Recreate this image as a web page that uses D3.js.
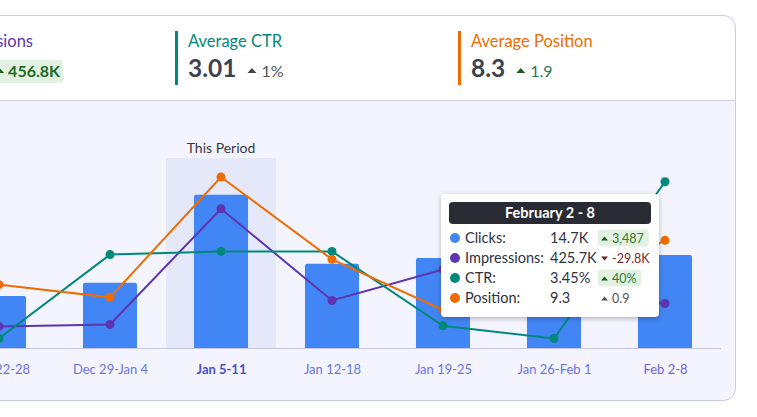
<!DOCTYPE html>
<html><head><meta charset="utf-8">
<script src="https://cdn.jsdelivr.net/npm/d3@7"></script>
<style>
html,body{margin:0;padding:0;background:#fff;overflow:hidden}
svg{display:block;font-family:Lato,"Open Sans",sans-serif}
</style></head><body>
<svg id="c" width="757" height="417"></svg>
<script>
// ---- data ----
const categories = ["Dec 22-28","Dec 29-Jan 4","Jan 5-11","Jan 12-18","Jan 19-25","Jan 26-Feb 1","Feb 2-8"];
const clicks      = [8.2, 10.3, 24.2, 13.3, 14.2, 11.2, 14.7];          // thousands
const impressions = [335.1, 343.0, 799.7, 437.5, 559.6, 455.5, 425.7];  // thousands
const ctr         = [2.46, 2.99, 3.01, 3.01, 2.54, 2.46, 3.45];         // %
const position    = [10.0, 10.2, 8.3, 9.6, 10.4, 10.2, 9.3];
const currentPeriod = "Jan 5-11";
const hoverPeriod = "Feb 2-8";

const statTitles  = ["Impressions","Average CTR","Average Position"];
const statValues  = ["799.7K","3.01","8.3"];
const statChanges = ["456.8K","1%","1.9"];

const tipTitle   = "February 2 - 8";
const tipLabels  = ["Clicks:","Impressions:","CTR:","Position:"];
const tipValues  = ["14.7K","425.7K","3.45%","9.3"];
const tipChanges = ["3,487","-29.8K","40%","0.9"];

// ---- colours ----
const C = {blue:"#4285f4", purple:"#5e35b1", teal:"#00897b", orange:"#ef6c00",
           border:"#c9cae6", plotBg:"#f3f4fd", band:"#e5e8f9", text:"#3c4350"};

const svg = d3.select("#c");
const defs = svg.append("defs");
defs.append("clipPath").attr("id","card").append("rect")
  .attr("x",-20.5).attr("y",15.5).attr("width",756).attr("height",385).attr("rx",12);
const f = defs.append("filter").attr("id","sh").attr("x","-20%").attr("y","-20%").attr("width","140%").attr("height","150%");
f.append("feDropShadow").attr("dx",0).attr("dy",1.5).attr("stdDeviation",2.5).attr("flood-color","#000").attr("flood-opacity",0.28);

const card = svg.append("g").attr("clip-path","url(#card)");
card.append("rect").attr("x",-21).attr("y",15).attr("width",760).attr("height",390).attr("fill","#fff");
card.append("rect").attr("x",-21).attr("y",100.5).attr("width",760).attr("height",305).attr("fill",C.plotBg);
card.append("line").attr("x1",-21).attr("x2",740).attr("y1",100.5).attr("y2",100.5).attr("stroke",C.border);

// ---- header stats ----
function tri(g, x, y, up, col){
  g.append("path").attr("d", up ? `M${x},${y} l4.5,-5 l4.5,5 Z` : `M${x},${y-5} l4.5,5 l4.5,-5 Z`).attr("fill",col);
}
// Impressions (partially off-screen)
{
  const g = svg.append("g");
  g.append("text").attr("x",33).attr("y",47).attr("text-anchor","end").attr("font-size",16.5)
    .attr("fill",C.purple).text(statTitles[0]);
  const t = g.append("text").attr("x",60).attr("y",77).attr("text-anchor","end").attr("font-size",16)
    .attr("font-weight",700).attr("fill","#1e6a22").text(statChanges[0]);
  const bb = t.node().getBBox();
  const tx = bb.x - 13;
  g.insert("rect","text").attr("x",tx-6).attr("y",60).attr("width",63-(tx-6)).attr("height",23).attr("rx",4).attr("fill","#e3f1e3");
  tri(g, tx, 73, true, "#1b5e20");
  g.append("text").attr("x",tx-14).attr("y",77).attr("text-anchor","end").attr("font-size",24)
    .attr("font-weight",700).attr("fill",C.text).text(statValues[0]);
}
const statX = [175, 458];
const statCol = [C.teal, C.orange];
const chgCol = [["#444","#555"],["#1b5e20","#23795a"]];
[1,2].forEach((k,j)=>{
  const x0 = statX[j];
  const g = svg.append("g");
  g.append("rect").attr("x",x0).attr("y",31).attr("width",3).attr("height",54).attr("fill",statCol[j]);
  g.append("text").attr("x",x0+13).attr("y",47).attr("font-size",16.5).attr("fill",statCol[j]).text(statTitles[k]);
  const v = g.append("text").attr("x",x0+13).attr("y",77).attr("font-size",24.5).attr("font-weight",700)
    .attr("fill",C.text).text(statValues[k]);
  const w = v.node().getComputedTextLength();
  const tx = x0+13+w+11;
  tri(g, tx, 73, true, chgCol[j][0]);
  g.append("text").attr("x",tx+14).attr("y",77).attr("font-size",16).attr("fill",chgCol[j][1]).text(statChanges[k]);
});

// ---- scales ----
const yBottom = 348, yTop = 158;
const x = d3.scalePoint().domain(categories).range([-56.5, 720.5]).padding(0.5);
const step = x.step();
const barW = step*0.487;
const yClicks = d3.scaleLinear().domain([0,30]).range([yBottom,yTop]);
const yImpr   = d3.scaleLinear().domain([250,1000]).range([yBottom,yTop]);
const yCtr    = d3.scaleLinear().domain([2.4,3.6]).range([yBottom,yTop]);
const yPos    = d3.scaleLinear().domain([11,8]).range([yBottom,yTop]);

const plot = svg.append("g");
// current period band
plot.append("rect").attr("x",x(currentPeriod)-step/2+0.5).attr("y",yTop).attr("width",step-1).attr("height",yBottom-yTop).attr("fill",C.band);
plot.append("text").attr("x",x(currentPeriod)).attr("y",yTop-5).attr("text-anchor","middle")
  .attr("font-size",14).attr("fill","#343b48").text("This Period");

// bars
plot.selectAll("path.bar").data(clicks).join("path").attr("class","bar")
  .attr("d",(d,i)=>{
    const cx = x(categories[i]), x0 = cx-barW/2, y0 = yClicks(d), r=2;
    return `M${x0},${yBottom} V${y0+r} Q${x0},${y0} ${x0+r},${y0} H${x0+barW-r} Q${x0+barW},${y0} ${x0+barW},${y0+r} V${yBottom} Z`;
  }).attr("fill",C.blue);

// axis
const ax = plot.append("g").attr("transform",`translate(0,${yBottom})`)
  .call(d3.axisBottom(x).tickSize(0).tickSizeOuter(0).tickPadding(17));
ax.select(".domain").attr("stroke","#c5c6e2");
ax.selectAll("text").attr("font-size",13).attr("font-family","Lato, 'Open Sans', sans-serif")
  .attr("fill",d=> d===hoverPeriod ? "#7460e6" : (d===currentPeriod ? "#4a50c2" : "#6b74e4"))
  .attr("font-weight",d=> d===currentPeriod ? 700 : 400);

// lines
function series(vals, sc, col){
  const line = d3.line().x((d,i)=>x(categories[i])).y(d=>sc(d));
  plot.append("path").datum(vals).attr("d",line).attr("fill","none").attr("stroke",col).attr("stroke-width",2);
  plot.append("g").selectAll("circle").data(vals).join("circle")
    .attr("cx",(d,i)=>x(categories[i])).attr("cy",d=>sc(d)).attr("r",4.5).attr("fill",col);
}
series(impressions, yImpr, C.purple);
series(ctr, yCtr, C.teal);
series(position, yPos, C.orange);

// card border
svg.append("rect").attr("x",-20.5).attr("y",15.5).attr("width",756).attr("height",385).attr("rx",12)
  .attr("fill","none").attr("stroke",C.border);

// ---- tooltip ----
const tR = x(hoverPeriod) - 6, tW = 218, tH = 123, tTop = 194;
const tL = tR - tW;
const tip = svg.append("g");
tip.append("rect").attr("x",tL).attr("y",tTop).attr("width",tW).attr("height",tH).attr("rx",4)
  .attr("fill","#fff").attr("filter","url(#sh)");
tip.append("rect").attr("x",tL+8).attr("y",tTop+8).attr("width",tW-16).attr("height",22).attr("rx",4).attr("fill","#2a2a33");
tip.append("text").attr("x",tL+tW/2).attr("y",tTop+24).attr("text-anchor","middle").attr("font-size",14.5)
  .attr("font-weight",700).attr("fill","#fff").text(tipTitle);
const tipCols = [C.blue, C.purple, C.teal, C.orange];
const chStyle = [
  {up:true,  tri:"#1b5e20", txt:"#2e7d32", bg:"#e3f1e3"},
  {up:false, tri:"#6d1f1f", txt:"#7a2b2b", bg:null},
  {up:true,  tri:"#1b5e20", txt:"#2e7d32", bg:"#e3f1e3"},
  {up:true,  tri:"#555",    txt:"#555",    bg:null}
];
tipLabels.forEach((lab,i)=>{
  const cy = tTop + 44 + i*20;
  tip.append("circle").attr("cx",tL+14).attr("cy",cy).attr("r",5).attr("fill",tipCols[i]);
  tip.append("text").attr("x",tL+24).attr("y",cy+5).attr("font-size",14.5).attr("fill","#2d3340").text(lab);
  tip.append("text").attr("x",tL+109).attr("y",cy+5).attr("font-size",14.5).attr("fill","#2d3340").text(tipValues[i]);
  const s = chStyle[i];
  const t = tip.append("text").attr("x",tL+171).attr("y",cy+4.5).attr("font-size",12.5).attr("fill",s.txt).text(tipChanges[i]);
  if (s.bg){
    const w = t.node().getComputedTextLength();
    tip.insert("rect","text").attr("x",tL+157).attr("y",cy-8.5).attr("width",w+19).attr("height",17).attr("rx",4).attr("fill",s.bg);
    tip.node().appendChild(t.node());
  }
  const ty = cy + 2.5;
  tip.append("path").attr("d", s.up ? `M${tL+160},${ty} l3.5,-4 l3.5,4 Z` : `M${tL+160},${ty-4} l3.5,4 l3.5,-4 Z`).attr("fill",s.tri);
});
</script>
</body></html>
